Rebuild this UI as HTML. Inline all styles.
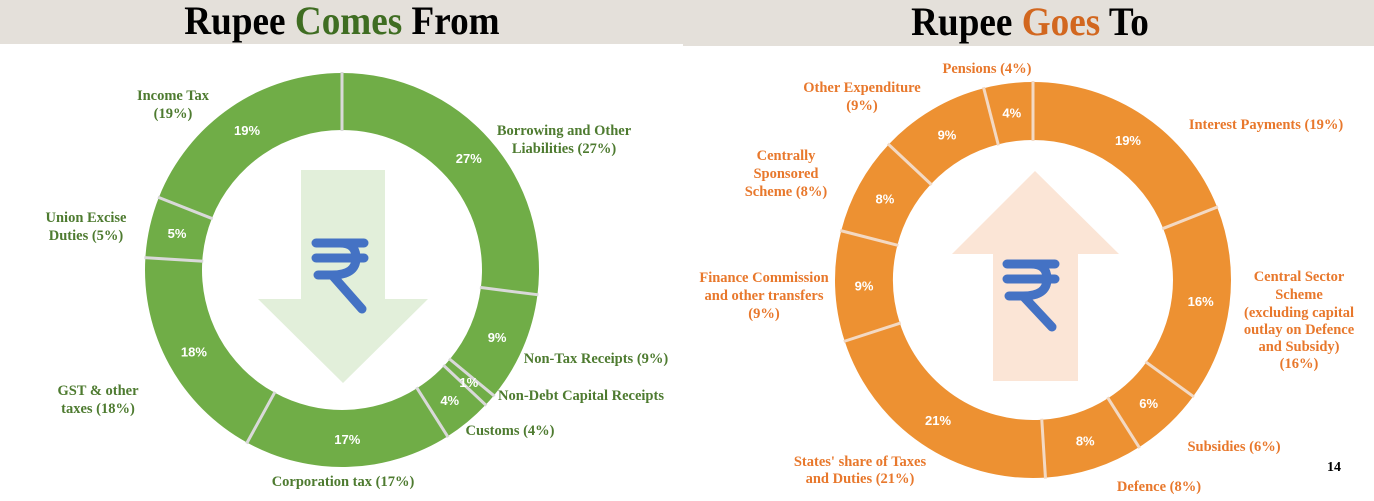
<!DOCTYPE html>
<html><head><meta charset="utf-8"><style>
html,body{margin:0;padding:0;background:#fff;}
body{width:1374px;height:496px;overflow:hidden;position:relative;font-family:"Liberation Serif",serif;}
</style></head><body>
<svg id="s" width="1374" height="496" viewBox="0 0 1374 496" xmlns="http://www.w3.org/2000/svg">
<rect x="0" y="0" width="683" height="44" fill="#e4e0da"/>
<rect x="683" y="0" width="691" height="46" fill="#e4e0da"/>
<text x="342" y="34" text-anchor="middle" font-family="Liberation Serif" font-weight="bold" font-size="40" fill="#000" transform="translate(342 0) scale(0.93 1) translate(-342 0)">Rupee <tspan fill="#3f6d22">Comes</tspan> From</text>
<text x="1030" y="35" text-anchor="middle" font-family="Liberation Serif" font-weight="bold" font-size="40" fill="#000" transform="translate(1030 0) scale(0.93 1) translate(-1030 0)">Rupee <tspan fill="#d2671f">Goes</tspan> To</text>
<g id="L"></g><g id="R"></g>
<polygon points="301,170 385,170 385,299 428,299 343,383 258,299 301,299" fill="#e2efda"/>
<polygon points="1035,171 1119,254 1078,254 1078,381 993,381 993,254 952,254" fill="#fbe5d6"/>
<g fill="none" stroke="#4472c4" stroke-width="9" stroke-linecap="round">
<path d="M316 243 H364 M316 258 H364 M318 275 H332 Q356 275 356 258 Q356 243 340 243 M332 275 L362 309"/>
<path d="M1007 264 H1055 M1007 279 H1055 M1009 296 H1023 Q1047 296 1047 279 Q1047 264 1031 264 M1023 296 L1052 327"/>
</g>
<g font-family="Liberation Serif" font-weight="bold" font-size="14.5" fill="#4e7b30" text-anchor="middle">
<text x="173" y="100">Income Tax</text><text x="173" y="118">(19%)</text>
<text x="564" y="135">Borrowing and Other</text><text x="564" y="153">Liabilities (27%)</text>
<text x="86" y="222">Union Excise</text><text x="86" y="240">Duties (5%)</text>
<text x="98" y="395">GST &amp; other</text><text x="98" y="413">taxes (18%)</text>
<text x="596" y="363">Non-Tax Receipts (9%)</text>
<text x="581" y="400">Non-Debt Capital Receipts</text>
<text x="510" y="435">Customs (4%)</text>
<text x="343" y="486">Corporation tax (17%)</text>
</g>
<g font-family="Liberation Serif" font-weight="bold" font-size="14.5" fill="#e8782c" text-anchor="middle">
<text x="987" y="73">Pensions (4%)</text>
<text x="862" y="92">Other Expenditure</text><text x="862" y="110">(9%)</text>
<text x="786" y="160">Centrally</text><text x="786" y="178">Sponsored</text><text x="786" y="196">Scheme (8%)</text>
<text x="764" y="282">Finance Commission</text><text x="764" y="300">and other transfers</text><text x="764" y="318">(9%)</text>
<text x="1266" y="129">Interest Payments (19%)</text>
<text x="1299" y="281">Central Sector</text><text x="1299" y="299">Scheme</text><text x="1299" y="317">(excluding capital</text><text x="1299" y="334">outlay on Defence</text><text x="1299" y="351">and Subsidy)</text><text x="1299" y="368">(16%)</text>
<text x="1234" y="451">Subsidies (6%)</text>
<text x="860" y="466">States' share of Taxes</text><text x="860" y="483">and Duties (21%)</text>
<text x="1159" y="491">Defence (8%)</text>
</g>
<text x="1334" y="471" font-family="Liberation Serif" font-weight="bold" font-size="14" fill="#000" text-anchor="middle">14</text>
</svg>
<script>
function donut(g,cx,cy,ro,ri,vals,labels,col,sep,lr){
 var el=document.getElementById(g),a=0,h='';
 function pt(r,ang){var t=(ang-90)*Math.PI/180;return [cx+r*Math.cos(t),cy+r*Math.sin(t)];}
 for(var i=0;i<vals.length;i++){
  var a0=a,a1=a+vals[i]*3.6;a=a1;
  var p1=pt(ro,a0),p2=pt(ro,a1),p3=pt(ri,a1),p4=pt(ri,a0),lg=(a1-a0)>180?1:0;
  h+='<path d="M'+p1+' A'+ro+' '+ro+' 0 '+lg+' 1 '+p2+' L'+p3+' A'+ri+' '+ri+' 0 '+lg+' 0 '+p4+'Z" fill="'+col+'"/>';
 }
 a=0;
 for(var i=0;i<vals.length;i++){
  var q1=pt(ro+1,a),q2=pt(ri-1,a);a+=vals[i]*3.6;
  h+='<line x1="'+q1[0]+'" y1="'+q1[1]+'" x2="'+q2[0]+'" y2="'+q2[1]+'" stroke="'+sep+'" stroke-width="3"/>';
 }
 a=0;
 for(var i=0;i<vals.length;i++){
  var m=a+vals[i]*1.8;a+=vals[i]*3.6;var p=pt(lr,m);
  h+='<text x="'+p[0]+'" y="'+(p[1]+5)+'" text-anchor="middle" font-family="Liberation Sans" font-weight="bold" font-size="13" fill="#fff">'+labels[i]+'</text>';
 }
 el.innerHTML=h;
}
donut('L',342,270,197,140,[27,9,1,4,17,18,5,19],['27%','9%','1%','4%','17%','18%','5%','19%'],'#70ad47','#d9d9d9',169);
donut('R',1033,280,198,140,[19,16,6,8,21,9,8,9,4],['19%','16%','6%','8%','21%','9%','8%','9%','4%'],'#ed9132','#f3d9c3',169);
</script>
</body></html>
